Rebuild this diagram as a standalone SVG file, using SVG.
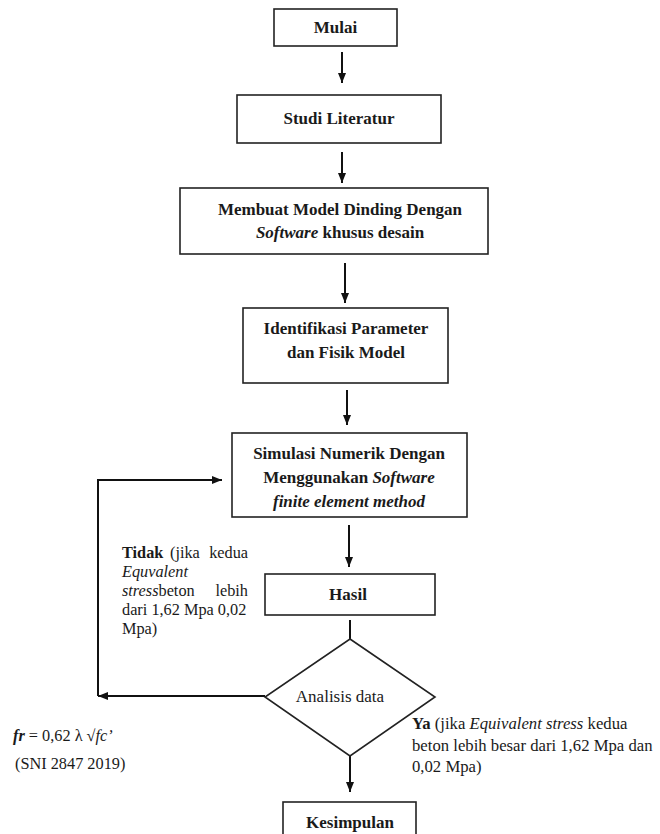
<svg xmlns="http://www.w3.org/2000/svg" width="660" height="834" viewBox="0 0 660 834">
<style>
  text { font-family: "Liberation Serif", "Times New Roman", serif; fill: #1a1a1a; }
  .t { font-size: 17px; font-weight: bold; text-anchor: middle; }
  .n { font-size: 16.3px; }
  .y { font-size: 16.7px; }
  .box { fill: #ffffff; stroke: #222222; stroke-width: 1.6; }
  .ln { fill: none; stroke: #111111; stroke-width: 2; }
  .bi { font-style: italic; font-weight: bold; }
  .i { font-style: italic; }
  .b { font-weight: bold; }
</style>
<defs>
  <marker id="ah" viewBox="0 0 10 8" refX="10" refY="4" markerWidth="10" markerHeight="8" orient="auto" markerUnits="userSpaceOnUse">
    <path d="M0,0 L10,4 L0,8 z" fill="#111111"/>
  </marker>
</defs>
<rect width="660" height="834" fill="#ffffff"/>

<g id="connectors">
  <line class="ln" x1="342" y1="52" x2="342" y2="83" marker-end="url(#ah)"/>
  <line class="ln" x1="342" y1="152" x2="342" y2="183" marker-end="url(#ah)"/>
  <line class="ln" x1="345" y1="263" x2="345" y2="303" marker-end="url(#ah)"/>
  <line class="ln" x1="347" y1="390" x2="347" y2="425" marker-end="url(#ah)"/>
  <line class="ln" x1="349" y1="525" x2="349" y2="567" marker-end="url(#ah)"/>
  <line class="ln" x1="350" y1="620" x2="350" y2="639"/>
  <line class="ln" x1="350" y1="756" x2="350" y2="792" marker-end="url(#ah)"/>
  <polyline class="ln" points="265,696 98,696" marker-end="url(#ah)"/>
  <polyline class="ln" points="98,696 98,480 222,480" marker-end="url(#ah)"/>
</g>

<g id="mulai">
  <rect class="box" x="274" y="9" width="123" height="37"/>
  <text class="t" x="335.5" y="33">Mulai</text>
</g>

<g id="studi">
  <rect class="box" x="237" y="95" width="204" height="48"/>
  <text class="t" x="339" y="124">Studi Literatur</text>
</g>

<g id="membuat">
  <rect class="box" x="180" y="188" width="308" height="66"/>
  <text class="t" x="340" y="215">Membuat Model Dinding Dengan</text>
  <text class="t" x="340" y="238"><tspan class="bi">Software</tspan> khusus desain</text>
</g>

<g id="identifikasi">
  <rect class="box" x="243" y="308" width="205" height="75"/>
  <text class="t" x="346" y="334">Identifikasi Parameter</text>
  <text class="t" x="346" y="358">dan Fisik Model</text>
</g>

<g id="simulasi">
  <rect class="box" x="232" y="433" width="235" height="84"/>
  <text class="t" x="349" y="459">Simulasi Numerik Dengan</text>
  <text class="t" x="349" y="483">Menggunakan <tspan class="bi">Software</tspan></text>
  <text class="t" x="349" y="507"><tspan class="bi">finite element method</tspan></text>
</g>

<g id="hasil">
  <rect class="box" x="265" y="574" width="170" height="41"/>
  <text class="t" x="348" y="600">Hasil</text>
</g>

<g id="analisis">
  <polygon class="box" points="350,639 435,697 350,756 265,697"/>
  <text x="340" y="702" style="font-size:17px;text-anchor:middle">Analisis data</text>
</g>

<g id="kesimpulan">
  <rect class="box" x="283" y="802" width="133" height="40"/>
  <text class="t" x="350" y="828">Kesimpulan</text>
</g>

<g id="label-tidak">
  <text class="n" x="122" y="558"><tspan class="b">Tidak</tspan></text>
  <text class="n" x="170" y="558">(jika</text>
  <text class="n" x="248" y="558" text-anchor="end">kedua</text>
  <text class="n i" x="122" y="577">Equvalent</text>
  <text class="n" x="122" y="596"><tspan class="i">stress</tspan>beton</text>
  <text class="n" x="248" y="596" text-anchor="end">lebih</text>
  <text class="n" x="122" y="615">dari 1,62 Mpa 0,02</text>
  <text class="n" x="122" y="634">Mpa)</text>
</g>

<g id="label-ya">
  <text class="y" x="412" y="729"><tspan class="b">Ya</tspan> (jika <tspan class="i">Equivalent stress</tspan> kedua</text>
  <text class="y" x="412" y="751">beton lebih besar dari 1,62 Mpa dan</text>
  <text class="y" x="412" y="772">0,02 Mpa)</text>
</g>

<g id="label-fr">
  <text class="n" x="13" y="741"><tspan class="bi">fr</tspan> = 0,62 λ √<tspan class="i">fc’</tspan></text>
  <text class="n" x="15" y="769">(SNI 2847 2019)</text>
</g>
</svg>
